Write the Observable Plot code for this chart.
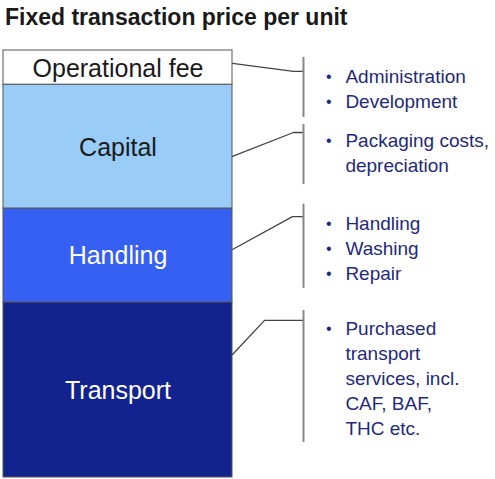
<!DOCTYPE html>
<html><head><meta charset="utf-8">
<script src="https://cdn.jsdelivr.net/npm/d3@7"></script>
<script src="https://cdn.jsdelivr.net/npm/@observablehq/plot@0.6"></script>
<style>
html,body{margin:0;padding:0;background:#fff;}
#title{height:39px;padding-top:6px;padding-left:5px;font:bold 23px "Liberation Sans",Arial,sans-serif;line-height:1;color:#1a1a1a;white-space:nowrap;}
#chart svg{display:block;}
</style></head><body>
<div id="title">Fixed transaction price per unit</div>
<div id="chart"></div>
<script>
// ---- data ----
const categories = ["Transport", "Handling", "Capital", "Operational fee"];
const values = [41, 22, 29, 8];
const details = [
  ["Purchased\ntransport\nservices, incl.\nCAF, BAF,\nTHC etc."],
  ["Handling", "Washing", "Repair"],
  ["Packaging costs,\ndepreciation"],
  ["Administration", "Development"]
];
const fills = ["#12228f", "#3560f2", "#99ccf7", "#ffffff"];
const labelFills = ["#ffffff", "#ffffff", "#1a1a1a", "#1a1a1a"];

// ---- layout (value units on y, bar-width units on x) ----
const connFrom  = [28.8, 53.4, 75.2, 97.0];
const connElbow = [36.8, 61.1, 80.8, 95.1];
const elbowX    = [1.14, 1.262, 1.266, 1.266];
const brTop     = [39.1, 64.0, 82.7, 98.4];
const brBottom  = [8.2, 44.3, 68.6, 84.3];
const firstLine = [34.9, 59.5, 78.9, 93.9];
const lineStep = 5.855;
const bracketX = 1.31, bulletX = 1.42, textX = 1.493;

let acc = 0;
const segs = categories.map((c, i) => {
  const s = {cat: c, y1: acc, y2: acc + values[i], fill: fills[i], lf: labelFills[i]};
  acc += values[i];
  return s;
});
const rows = [];
details.forEach((items, g) => {
  let line = 0;
  items.forEach(t => {
    rows.push({g, text: t, y: firstLine[g] - line * lineStep});
    line += t.split("\n").length;
  });
});
const conn = [];
categories.forEach((c, g) => {
  conn.push({g, x: 1, y: connFrom[g]});
  conn.push({g, x: elbowX[g], y: connElbow[g]});
  conn.push({g, x: bracketX, y: connElbow[g]});
});
const brackets = categories.map((c, g) => ({x: bracketX, y1: brTop[g], y2: brBottom[g]}));

const chart = Plot.plot({
  width: 495, height: 433,
  marginLeft: 3, marginRight: 0, marginTop: 5, marginBottom: 1,
  style: {fontFamily: "Liberation Sans, Arial, sans-serif", background: "#fff", overflow: "visible"},
  x: {domain: [0, 492 / 229], axis: null},
  y: {domain: [0, acc], axis: null},
  marks: [
    Plot.rect(segs, {x1: 0, x2: 1, y1: "y1", y2: "y2", fill: d => d.fill, stroke: "#555", strokeWidth: 1}),
    Plot.text(segs, {x: 0.5, y: d => (d.y1 + d.y2) / 2, text: "cat", fill: d => d.lf, fontSize: 25, dy: 1}),
    Plot.line(conn, {x: "x", y: "y", z: "g", stroke: "#444", strokeWidth: 1.3}),
    Plot.ruleX(brackets, {x: "x", y1: "y1", y2: "y2", stroke: "#888", strokeWidth: 2}),
    Plot.text(rows, {x: bulletX, y: "y", text: () => "•", fill: "#1f2a7a", fontSize: 16, textAnchor: "middle", lineAnchor: "middle", dy: 0}),
    Plot.text(rows, {x: textX, y: "y", text: "text", fill: "#1f2a7a", fontSize: 19, textAnchor: "start", lineAnchor: "top", lineHeight: 25 / 19, dy: -11})
  ]
});
document.getElementById("chart").appendChild(chart);
</script>
</body></html>
